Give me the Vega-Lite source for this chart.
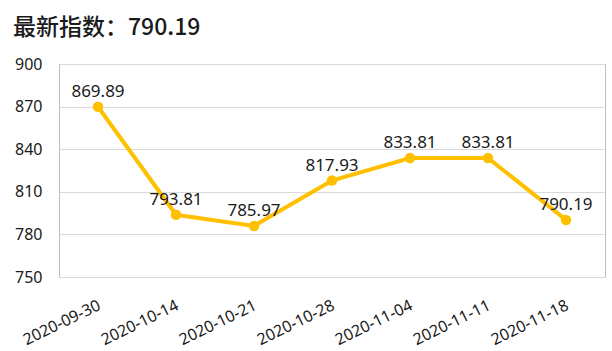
{
  "$schema": "https://vega.github.io/schema/vega-lite/v6.json",
  "autosize": {"type": "none"},
  "padding": {"left": 59, "top": 64, "right": 7, "bottom": 74},
  "width": 546,
  "height": 213,
  "background": "white",
  "title": {
    "text": "最新指数：790.19",
    "anchor": "start",
    "frame": "group",
    "orient": "top",
    "baseline": "alphabetic",
    "offset": 26,
    "dx": -46,
    "dy": 28,
    "font": "Noto Sans CJK SC",
    "fontSize": 23,
    "fontWeight": 500,
    "color": "#1a1a1a"
  },
  "config": {
    "view": {"stroke": "#bfbfbf", "strokeWidth": 1},
    "axis": {
      "labelFont": "Noto Sans",
      "labelFontSize": 16,
      "labelColor": "#1a1a1a",
      "domain": false,
      "ticks": false,
      "title": null
    }
  },
  "data": {
    "values": [
      {"date": "2020-09-30", "value": 869.89},
      {"date": "2020-10-14", "value": 793.81},
      {"date": "2020-10-21", "value": 785.97},
      {"date": "2020-10-28", "value": 817.93},
      {"date": "2020-11-04", "value": 833.81},
      {"date": "2020-11-11", "value": 833.81},
      {"date": "2020-11-18", "value": 790.19}
    ]
  },
  "encoding": {
    "x": {
      "field": "date",
      "type": "ordinal",
      "sort": null,
      "scale": {"type": "point", "padding": 0.5},
      "axis": {
        "labelAngle": -26,
        "labelAlign": "right",
        "labelBaseline": "middle",
        "labelPadding": 27,
        "labelOffset": 1,
        "grid": false
      }
    },
    "y": {
      "field": "value",
      "type": "quantitative",
      "scale": {"domain": [750, 900], "nice": false, "zero": false},
      "axis": {
        "values": [750, 780, 810, 840, 870, 900],
        "grid": true,
        "gridColor": "#d9d9d9",
        "gridWidth": 1,
        "labelPadding": 17
      }
    }
  },
  "layer": [
    {
      "mark": {"type": "line", "color": "#FFC000", "strokeWidth": 4}
    },
    {
      "mark": {"type": "point", "filled": true, "opacity": 1, "color": "#FFC000", "size": 110}
    },
    {
      "mark": {
        "type": "text",
        "baseline": "alphabetic",
        "dy": -10,
        "font": "Noto Sans",
        "fontSize": 17,
        "color": "#1a1a1a"
      },
      "encoding": {"text": {"field": "value", "type": "quantitative", "format": ".2f"}}
    }
  ]
}
